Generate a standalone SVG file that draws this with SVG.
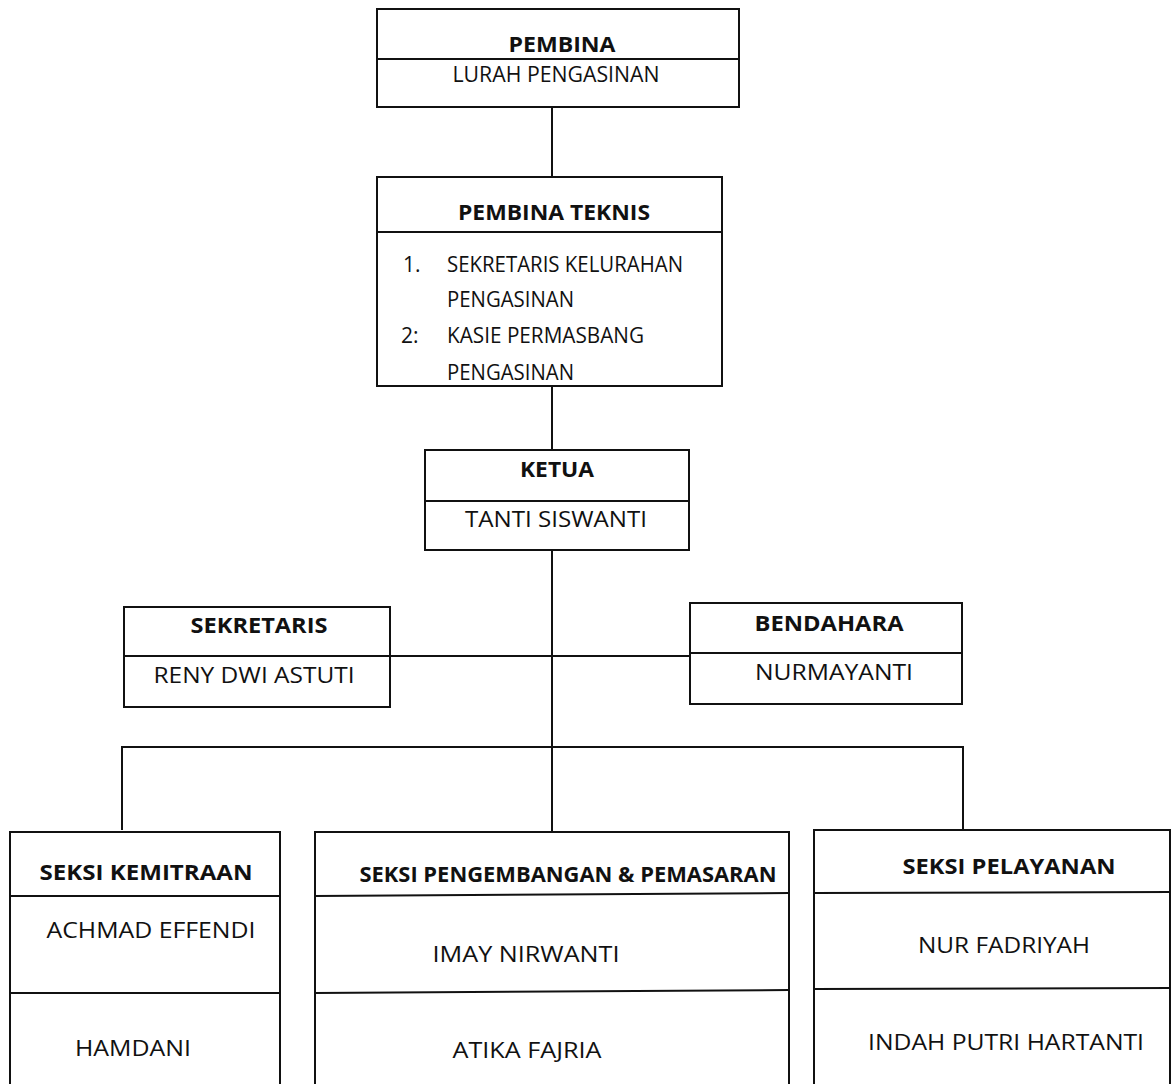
<svg xmlns="http://www.w3.org/2000/svg" width="1171" height="1084" viewBox="0 0 1171 1084">
<style>
.bx{fill:#fff;stroke:#111;stroke-width:2}
.ln{fill:none;stroke:#111;stroke-width:2}
text{font-family:"Open Sans","Liberation Sans",sans-serif;font-size:21px;fill:#111}
.b{font-weight:bold}
.c{text-anchor:middle}
</style>
<rect width="1171" height="1084" fill="#fff"/>
<g id="connectors">
<line class="ln" x1="552" y1="107" x2="552" y2="177"/>
<line class="ln" x1="552" y1="386" x2="552" y2="450"/>
<line class="ln" x1="552" y1="550" x2="552" y2="832"/>
<line class="ln" x1="390" y1="656" x2="690" y2="656"/>
<polyline class="ln" points="122,830 122,747 963,747 963,830"/>
</g>
<g id="pembina">
<rect class="bx" x="377" y="9" width="362" height="98"/>
<line class="ln" x1="377" y1="59" x2="739" y2="59"/>
<text class="b c" x="562" y="52" textLength="107" lengthAdjust="spacingAndGlyphs">PEMBINA</text>
<text class="c" x="556" y="82" textLength="207" lengthAdjust="spacingAndGlyphs">LURAH PENGASINAN</text>
</g>
<g id="pembina-teknis">
<rect class="bx" x="377" y="177" width="345" height="209"/>
<line class="ln" x1="377" y1="232" x2="722" y2="232"/>
<text class="b c" x="554" y="220" textLength="192" lengthAdjust="spacingAndGlyphs">PEMBINA TEKNIS</text>
<text x="403" y="272">1.</text>
<text x="447" y="272" textLength="236" lengthAdjust="spacingAndGlyphs">SEKRETARIS KELURAHAN</text>
<text x="447" y="307" textLength="127" lengthAdjust="spacingAndGlyphs">PENGASINAN</text>
<text x="401" y="343">2:</text>
<text x="447" y="343" textLength="197" lengthAdjust="spacingAndGlyphs">KASIE PERMASBANG</text>
<text x="447" y="380" textLength="127" lengthAdjust="spacingAndGlyphs">PENGASINAN</text>
</g>
<g id="ketua">
<rect class="bx" x="425" y="450" width="264" height="100"/>
<line class="ln" x1="425" y1="501" x2="689" y2="501"/>
<text class="b c" x="557" y="477" textLength="74" lengthAdjust="spacingAndGlyphs">KETUA</text>
<text class="c" x="556" y="527" textLength="182" lengthAdjust="spacingAndGlyphs">TANTI SISWANTI</text>
</g>
<g id="sekretaris">
<rect class="bx" x="124" y="607" width="266" height="100"/>
<line class="ln" x1="124" y1="656" x2="390" y2="656"/>
<text class="b c" x="259" y="633" textLength="137" lengthAdjust="spacingAndGlyphs">SEKRETARIS</text>
<text class="c" x="254" y="683" textLength="201" lengthAdjust="spacingAndGlyphs">RENY DWI ASTUTI</text>
</g>
<g id="bendahara">
<rect class="bx" x="690" y="603" width="272" height="101"/>
<line class="ln" x1="690" y1="653" x2="962" y2="653"/>
<text class="b c" x="829" y="631" textLength="149" lengthAdjust="spacingAndGlyphs">BENDAHARA</text>
<text class="c" x="834" y="680" textLength="158" lengthAdjust="spacingAndGlyphs">NURMAYANTI</text>
</g>
<g id="seksi-kemitraan">
<rect class="bx" x="10" y="832" width="270" height="260"/>
<line class="ln" x1="10" y1="896" x2="280" y2="896"/>
<line class="ln" x1="10" y1="993" x2="280" y2="993"/>
<text class="b c" x="146" y="880" textLength="213" lengthAdjust="spacingAndGlyphs">SEKSI KEMITRAAN</text>
<text class="c" x="151" y="938" textLength="209" lengthAdjust="spacingAndGlyphs">ACHMAD EFFENDI</text>
<text class="c" x="133" y="1056" textLength="116" lengthAdjust="spacingAndGlyphs">HAMDANI</text>
</g>
<g id="seksi-pengembangan">
<rect class="bx" x="315" y="832" width="474" height="260"/>
<line class="ln" x1="315" y1="896" x2="789" y2="893"/>
<line class="ln" x1="315" y1="993" x2="789" y2="990"/>
<text class="b c" x="568" y="882" textLength="417" lengthAdjust="spacingAndGlyphs">SEKSI PENGEMBANGAN &amp; PEMASARAN</text>
<text class="c" x="526" y="962" textLength="187" lengthAdjust="spacingAndGlyphs">IMAY NIRWANTI</text>
<text class="c" x="527" y="1058" textLength="149" lengthAdjust="spacingAndGlyphs">ATIKA FAJRIA</text>
</g>
<g id="seksi-pelayanan">
<rect class="bx" x="814" y="830" width="356" height="260"/>
<line class="ln" x1="814" y1="893" x2="1170" y2="892"/>
<line class="ln" x1="814" y1="989" x2="1170" y2="988"/>
<text class="b c" x="1009" y="874" textLength="213" lengthAdjust="spacingAndGlyphs">SEKSI PELAYANAN</text>
<text class="c" x="1004" y="953" textLength="172" lengthAdjust="spacingAndGlyphs">NUR FADRIYAH</text>
<text class="c" x="1006" y="1050" textLength="276" lengthAdjust="spacingAndGlyphs">INDAH PUTRI HARTANTI</text>
</g>
</svg>
